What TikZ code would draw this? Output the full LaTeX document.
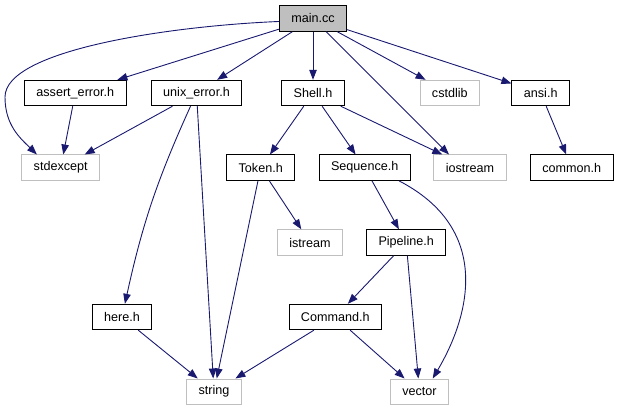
\documentclass[tikz,border=0pt]{standalone}
\usepackage{fontspec}
\setmainfont{Liberation Sans}
\usetikzlibrary{arrows.meta}
\definecolor{edgeblue}{HTML}{191970}
\definecolor{boxgray}{HTML}{BFBFBF}

\begin{document}
\begin{tikzpicture}[x=1pt,y=-1pt,
		file/.style={draw=black,line width=0.9pt,minimum height=25.5pt,inner xsep=12pt,font=\fontsize{12.6}{15}\selectfont},
		sys/.style={file,draw=boxgray},
		inc/.style={draw=edgeblue,line width=0.9pt,-{Triangle[length=10pt,width=7.5pt]}}]
		\useasboundingbox (0,0) rectangle (617,411);
		% files
		\node[file,fill=boxgray] (main) at (313,18.5) {main.cc};
		\node[file] (assert) at (75.3,93) {assert\_error.h};
		\node[file] (unixerr) at (196.5,93) {unix\_error.h};
		\node[file] (shell) at (313,93) {Shell.h};
		\node[sys] (cstdlib) at (449.8,93) {cstdlib};
		\node[file] (ansi) at (540.7,93) {ansi.h};
		\node[sys] (stdexcept) at (60.7,167.7) {stdexcept};
		\node[file] (token) at (260.7,167.7) {Token.h};
		\node[file] (sequence) at (364.7,167.7) {Sequence.h};
		\node[sys] (iostream) at (470,167.7) {iostream};
		\node[file] (common) at (571.7,167.7) {common.h};
		\node[sys] (istream) at (310,242.5) {istream};
		\node[file] (pipeline) at (406.2,242.5) {Pipeline.h};
		\node[file] (here) at (122,317) {here.h};
		\node[file] (command) at (335.3,317) {Command.h};
		\node[sys] (string) at (214,391.7) {string};
		\node[sys] (vector) at (419.5,391.7) {vector};
		% includes
		\draw[inc] (main.185) .. controls (170,26) and (5,50) .. (5,97)
			.. controls (5,125) and (20,138) .. (stdexcept.151);
		\draw[inc] (main) -- (assert);
		\draw[inc] (main) -- (unixerr);
		\draw[inc] (main) -- (shell);
		\draw[inc] (main) -- ([xshift=-21pt]iostream.north);
		\draw[inc] (main) -- (cstdlib);
		\draw[inc] (main) -- (ansi);
		\draw[inc] (assert) -- (stdexcept);
		\draw[inc] (unixerr) -- (stdexcept);
		\draw[inc] (unixerr) to[bend right=6] (here);
		\draw[inc] (unixerr) -- (string);
		\draw[inc] (shell) -- (token);
		\draw[inc] (shell) -- (sequence);
		\draw[inc] (shell) -- (iostream);
		\draw[inc] (ansi) -- (common);
		\draw[inc] (token) -- (istream);
		\draw[inc] (token) -- (string);
		\draw[inc] (sequence) -- (pipeline);
		\draw[inc] (sequence.-21) .. controls (490,228) and (472,312) .. (vector.45);
		\draw[inc] (pipeline) -- (command);
		\draw[inc] (pipeline) -- (vector);
		\draw[inc] (command) -- (string);
		\draw[inc] (command) -- (vector);
		\draw[inc] (here) -- (string);
	\end{tikzpicture}
\end{document}
